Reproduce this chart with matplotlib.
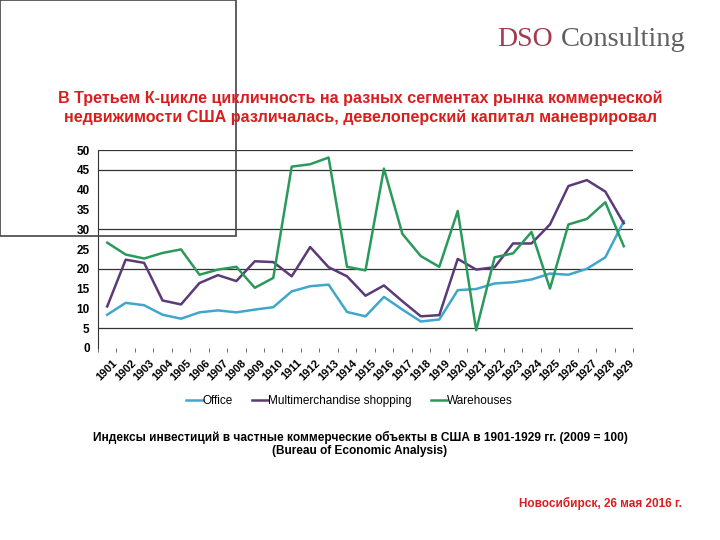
import matplotlib
matplotlib.use("Agg")
import matplotlib.pyplot as plt
import matplotlib.patches as mpatches
import numpy as np

years = [str(y) for y in range(1901, 1930)]
office = [8.4, 11.4, 10.8, 8.4, 7.4, 9.0, 9.5, 9.0, 9.7, 10.3, 14.3, 15.6, 16.0, 9.1,
          8.0, 12.9, 9.7, 6.7, 7.2, 14.6, 14.9, 16.3, 16.6, 17.3, 18.8, 18.5, 20.0, 22.9, 32.0]
shopping = [10.5, 22.3, 21.5, 12.0, 11.0, 16.4, 18.4, 16.9, 21.9, 21.7, 18.1, 25.5, 20.4, 18.1,
            13.2, 15.8, 11.8, 8.0, 8.3, 22.5, 19.8, 20.4, 26.4, 26.4, 31.2, 40.9, 42.4, 39.5, 31.5]
warehouses = [26.6, 23.6, 22.6, 24.0, 24.9, 18.5, 19.8, 20.5, 15.2, 17.7, 45.8, 46.4, 48.1, 20.5,
              19.6, 45.3, 28.8, 23.2, 20.5, 34.6, 4.5, 22.9, 23.9, 29.3, 15.0, 31.2, 32.6, 36.8, 25.7]
series_names = ["Office", "Multimerchandise shopping", "Warehouses"]
series_colors = ["#3FA7CC", "#5B3A78", "#2A9A5C"]
yticks = [0, 5, 10, 15, 20, 25, 30, 35, 40, 45, 50]
grid_levels = [5, 20, 30, 45, 50]

title = ("В Третьем К-цикле цикличность на разных сегментах рынка коммерческой\n"
         "недвижимости США различалась, девелоперский капитал маневрировал")
caption1 = "Индексы инвестиций в частные коммерческие объекты в США в 1901-1929 гг. (2009 = 100)"
caption2 = "(Bureau of Economic Analysis)"
footer = "Новосибирск, 26 мая 2016 г."

plt.rcParams['font.family'] = ['Liberation Sans', 'DejaVu Sans']

fig = plt.figure(figsize=(7.2, 5.4), dpi=100)
ax = fig.add_axes([98/720, 1-348/540, (633-98)/720, (348-150)/540])

x = np.arange(len(years))
for vals, name, col in zip([office, shopping, warehouses], series_names, series_colors):
    ax.plot(x, vals, color=col, lw=1.8, label=name)

for g in grid_levels:
    ax.axhline(g, color="#333333", lw=0.9, zorder=0)

ax.set_xlim(-0.5, len(years) - 0.5)
ax.set_ylim(0, 50)
ax.set_yticks(yticks)
ax.set_yticklabels([str(v) for v in yticks], fontsize=8.5, fontweight='bold')
ax.tick_params(axis='y', length=0, pad=6)
ax.set_xticks(x)
ax.set_xticklabels(years, rotation=45, fontsize=8, fontweight='bold', ha='center')
ax.set_xticks(np.arange(-0.5, len(years), 1), minor=True)
ax.tick_params(axis='x', which='major', length=0, pad=7)
ax.tick_params(axis='x', which='minor', length=3, color="#555555")
for s in ['top', 'right', 'bottom']:
    ax.spines[s].set_visible(False)
ax.spines['left'].set_color("#333333")

leg = ax.legend(loc='upper center', bbox_to_anchor=(0.47, -0.185), ncol=3, frameon=False,
                fontsize=8.5, handlelength=1.4, handletextpad=0.0, columnspacing=1.6)

fig.text(0.5, 1-108/540, title, ha='center', va='center', color='#D91E1E',
         fontsize=11.6, fontweight='bold', linespacing=1.3)
fig.text(0.5, 1-437/540, caption1, ha='center', va='center', fontsize=8.6, fontweight='bold')
fig.text(0.5, 1-451/540, caption2, ha='center', va='center', fontsize=8.6, fontweight='bold')
fig.text(682/720, 1-503/540, footer, ha='right', va='center', color='#D91E1E',
         fontsize=8.5, fontweight='bold')

fig.text(497/720, 1-40/540, "DSO", ha='left', va='center', color='#A33A4E',
         fontsize=20, family='Liberation Serif')
fig.text(561/720, 1-40/540, "Consulting", ha='left', va='center', color='#606060',
         fontsize=20.5, family='Liberation Serif')

fig.add_artist(mpatches.Rectangle((0, 1-236/540), 236/720, 236/540, transform=fig.transFigure,
                                  fill=False, edgecolor='#444444', lw=1.2))

fig.savefig("out.png", dpi=100)
